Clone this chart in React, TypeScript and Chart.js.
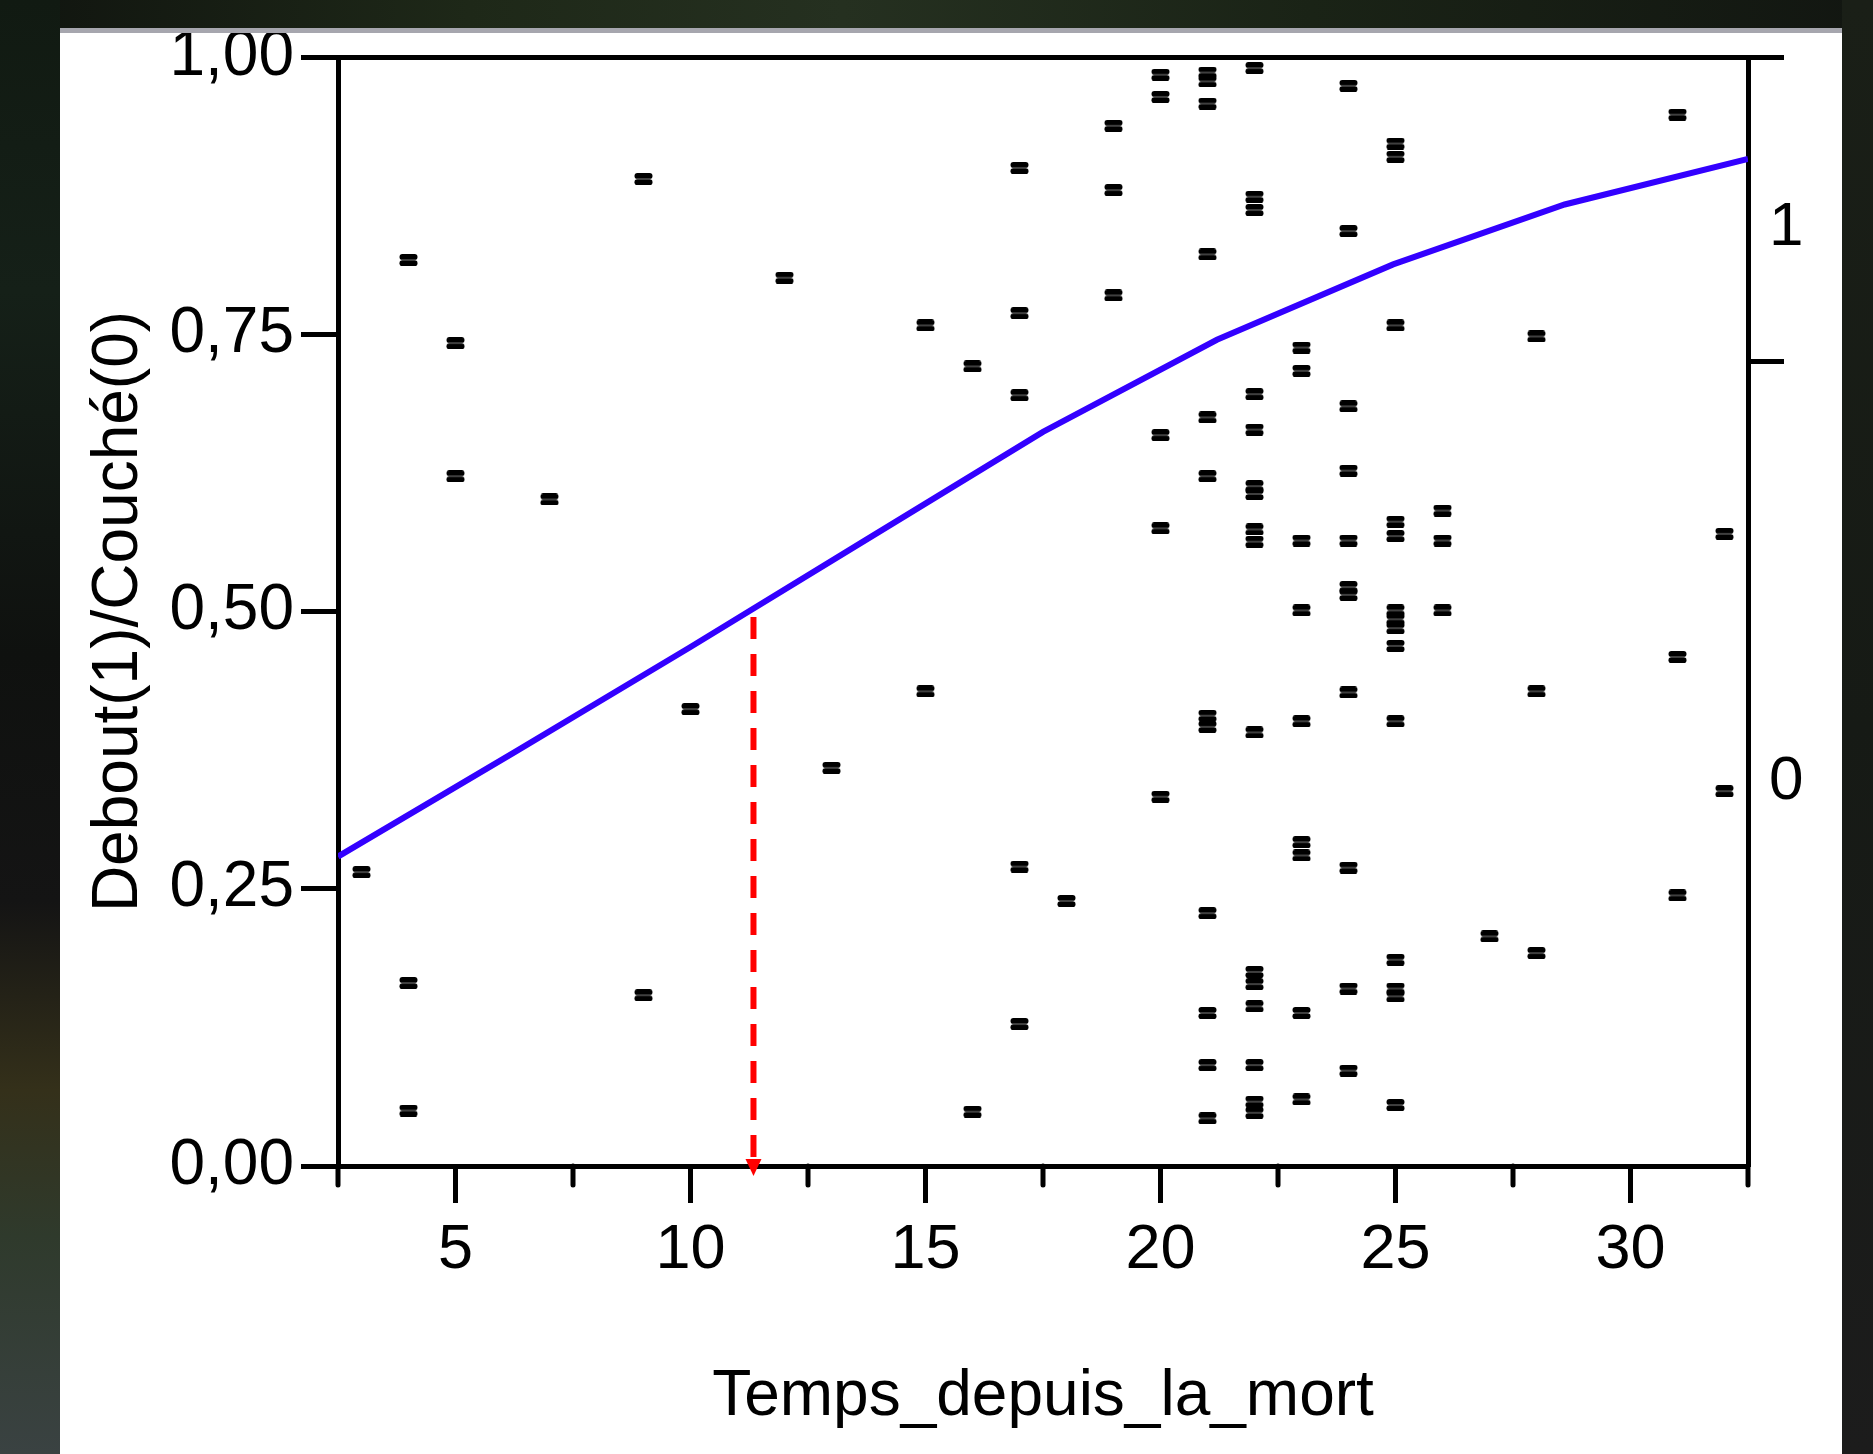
import React, { useEffect, useRef } from 'react';
import { Chart, registerables } from 'chart.js';

Chart.register(...registerables);

// ---- data ----
const obsCols = [3, 4, 5, 7, 9, 10, 12, 13, 15, 16, 17, 18, 19, 20, 21, 22, 23, 24, 25, 26, 27, 28, 31, 32];
const obsVals: number[][] = [
  [0.265],
  [0.817, 0.165, 0.05],
  [0.742, 0.622],
  [0.601],
  [0.89, 0.154],
  [0.412],
  [0.801],
  [0.359],
  [0.758, 0.428],
  [0.721, 0.049],
  [0.9, 0.769, 0.695, 0.27, 0.128],
  [0.239],
  [0.938, 0.88, 0.785],
  [0.984, 0.964, 0.659, 0.575, 0.333],
  [0.986, 0.978, 0.958, 0.822, 0.675, 0.622, 0.406, 0.396, 0.228, 0.138, 0.091, 0.043],
  [0.99, 0.874, 0.862, 0.696, 0.664, 0.613, 0.606, 0.574, 0.563, 0.391, 0.175, 0.164, 0.144, 0.091, 0.058, 0.048],
  [0.738, 0.717, 0.564, 0.501, 0.401, 0.292, 0.28, 0.138, 0.06],
  [0.974, 0.843, 0.685, 0.627, 0.564, 0.522, 0.515, 0.427, 0.269, 0.16, 0.086],
  [0.922, 0.91, 0.758, 0.581, 0.568, 0.501, 0.493, 0.485, 0.469, 0.401, 0.186, 0.16, 0.153, 0.055],
  [0.591, 0.564, 0.501],
  [0.207],
  [0.748, 0.428, 0.192],
  [0.948, 0.459, 0.244],
  [0.57, 0.338],
];

const curveX = [2.5, 6.25, 10, 13.75, 17.5, 21.2, 24.95, 28.6, 32.5];
const curveY = [0.279, 0.373, 0.468, 0.565, 0.662, 0.745, 0.813, 0.867, 0.908];

const cutX = [11.34, 11.34];
const cutY = [0.495, 0];

const xMajorTicks = [5, 10, 15, 20, 25, 30];
const xMinorTicks = [2.5, 7.5, 12.5, 17.5, 22.5, 27.5, 32.5];
const yTicks = [0, 0.25, 0.5, 0.75, 1];
const yTickLabels = ['0,00', '0,25', '0,50', '0,75', '1,00'];
const rightMarkVals = [0.725, 1];
const rightLabelVals = [0.346, 0.846];
const rightLabels = ['0', '1'];

const xTitle = 'Temps_depuis_la_mort';
const yTitle = 'Debout(1)/Couché(0)';

const FONT = "'Liberation Sans', Arial, Helvetica, sans-serif";

const noPad = (s: any) => {
  s.paddingTop = 0;
  s.paddingBottom = 0;
  s.paddingLeft = 0;
  s.paddingRight = 0;
};

const extrasPlugin = {
  id: 'extras',
  afterDraw(chart: any) {
    const { ctx, chartArea, scales } = chart;
    const xs = scales.x;
    const ys = scales.y;
    ctx.save();
    ctx.strokeStyle = '#000';
    ctx.lineWidth = 5;
    ctx.lineCap = 'round';
    for (const v of xMinorTicks) {
      const px = Math.round(xs.getPixelForValue(v));
      ctx.beginPath();
      ctx.moveTo(px, chartArea.bottom);
      ctx.lineTo(px, chartArea.bottom + 19);
      ctx.stroke();
    }
    const ax = xs.getPixelForValue(cutX[1]);
    const ay = ys.getPixelForValue(cutY[1]);
    ctx.fillStyle = '#ff0000';
    ctx.beginPath();
    ctx.moveTo(ax - 8, ay - 7);
    ctx.lineTo(ax + 8, ay - 7);
    ctx.lineTo(ax, ay + 10);
    ctx.closePath();
    ctx.fill();
    ctx.restore();
  },
};

export default function App() {
  const ref = useRef<HTMLCanvasElement>(null);

  useEffect(() => {
    document.body.style.margin = '0';
    document.body.style.overflow = 'hidden';

    const marker = document.createElement('canvas');
    marker.width = 19;
    marker.height = 12;
    const m = marker.getContext('2d')!;
    m.fillStyle = '#000';
    m.beginPath();
    (m as any).roundRect(0.5, 0, 18, 5.8, 2.9);
    m.fill();
    m.beginPath();
    (m as any).roundRect(0.5, 6.3, 18, 5.7, 2.85);
    m.fill();

    const points: { x: number; y: number }[] = [];
    obsCols.forEach((c, i) => obsVals[i].forEach((v) => points.push({ x: c, y: v })));

    const chart = new Chart(ref.current!, {
      type: 'scatter',
      data: {
        datasets: [
          {
            type: 'line',
            data: curveX.map((x, i) => ({ x, y: curveY[i] })),
            borderColor: '#3300ff',
            borderWidth: 6,
            pointRadius: 0,
            tension: 0,
            fill: false,
          } as any,
          {
            type: 'line',
            data: cutX.map((x, i) => ({ x, y: cutY[i] })),
            borderColor: '#ff0000',
            borderWidth: 6,
            borderDash: [22, 15],
            pointRadius: 0,
            fill: false,
          } as any,
          {
            type: 'scatter',
            data: points,
            pointStyle: marker as any,
            pointRadius: 6,
            clip: false,
          } as any,
        ],
      },
      options: {
        responsive: false,
        animation: false,
        devicePixelRatio: 1,
        events: [],
        layout: { padding: { top: 24, left: 0, right: 0, bottom: 0 } },
        plugins: { legend: { display: false }, tooltip: { enabled: false } },
        scales: {
          x: {
            type: 'linear',
            position: 'bottom',
            min: 2.5,
            max: 32.5,
            afterBuildTicks: (s: any) => {
              s.ticks = xMajorTicks.map((v) => ({ value: v }));
            },
            afterFit: (s: any) => {
              s.height = 288;
              noPad(s);
            },
            ticks: {
              autoSkip: false,
              maxRotation: 0,
              padding: 10,
              color: '#000',
              font: { family: FONT, size: 63 },
              callback: (v: any) => String(v),
            },
            grid: {
              drawOnChartArea: false,
              drawTicks: true,
              tickLength: 37,
              tickWidth: 5,
              tickColor: '#000',
            },
            border: { display: true, color: '#000', width: 5 },
            title: {
              display: true,
              text: xTitle,
              color: '#000',
              font: { family: FONT, size: 64 },
              padding: { top: 0, bottom: 18 },
            },
          },
          y: {
            type: 'linear',
            position: 'left',
            min: 0,
            max: 1,
            afterBuildTicks: (s: any) => {
              s.ticks = yTicks.map((v) => ({ value: v }));
            },
            afterFit: (s: any) => {
              s.width = 278;
              noPad(s);
            },
            ticks: {
              padding: 7,
              color: '#000',
              font: { family: FONT, size: 64 },
              callback: (v: any) => {
                const i = yTicks.indexOf(v);
                return i >= 0 ? yTickLabels[i] : '';
              },
            },
            grid: {
              drawOnChartArea: true,
              drawTicks: true,
              tickLength: 37,
              tickWidth: 5,
              lineWidth: 5,
              tickColor: '#000',
              color: (c: any) => (c.tick && c.tick.value === 1 ? '#000' : 'rgba(0,0,0,0)'),
            },
            border: { display: true, color: '#000', width: 5 },
            title: {
              display: true,
              text: yTitle,
              color: '#000',
              font: { family: FONT, size: 64 },
              padding: { top: 21, bottom: 0 },
            },
          },
          y2: {
            type: 'linear',
            position: 'right',
            min: 0,
            max: 1,
            afterBuildTicks: (s: any) => {
              s.ticks = [...rightLabelVals, ...rightMarkVals]
                .sort((a, b) => a - b)
                .map((v) => ({ value: v }));
            },
            afterFit: (s: any) => {
              s.width = 93;
              noPad(s);
            },
            ticks: {
              padding: -15,
              color: '#000',
              font: { family: FONT, size: 62 },
              callback: (v: any) => {
                const i = rightLabelVals.indexOf(v);
                return i >= 0 ? rightLabels[i] : '';
              },
            },
            grid: {
              drawOnChartArea: false,
              drawTicks: true,
              tickLength: 36,
              tickWidth: 5,
              tickColor: (c: any) =>
                c.tick && rightMarkVals.indexOf(c.tick.value) >= 0 ? '#000' : 'rgba(0,0,0,0)',
            },
            border: { display: true, color: '#000', width: 5 },
          },
        },
      } as any,
      plugins: [extrasPlugin as any],
    });

    return () => chart.destroy();
  }, []);

  return (
    <div
      style={{
        position: 'absolute',
        left: 0,
        top: 0,
        width: 1873,
        height: 1454,
        overflow: 'hidden',
        background: '#121512',
      }}
    >
      <div
        style={{
          position: 'absolute',
          left: 0,
          top: 0,
          width: 1873,
          height: 30,
          background: 'linear-gradient(90deg, #10140f 0%, #1e2818 25%, #253020 45%, #1a2316 70%, #121611 100%)',
        }}
      />
      <div
        style={{
          position: 'absolute',
          left: 0,
          top: 0,
          width: 60,
          height: 1454,
          background:
            'linear-gradient(180deg, #111a12 0%, #152018 20%, #0f110f 45%, #141414 62%, #34301a 75%, #2f3a2c 85%, #3a4242 100%)',
        }}
      />
      <div
        style={{
          position: 'absolute',
          left: 1842,
          top: 0,
          width: 31,
          height: 1454,
          background: 'linear-gradient(180deg, #1a1f17 0%, #161a15 50%, #1c1c1c 100%)',
        }}
      />
      <div
        style={{
          position: 'absolute',
          left: 60,
          top: 28,
          width: 1782,
          height: 1426,
          background: '#ffffff',
          borderTop: '5px solid #a6a6ae',
          boxSizing: 'border-box',
        }}
      />
      <canvas
        ref={ref}
        width={1781}
        height={1421}
        style={{ position: 'absolute', left: 60, top: 33, display: 'block' }}
      />
    </div>
  );
}
